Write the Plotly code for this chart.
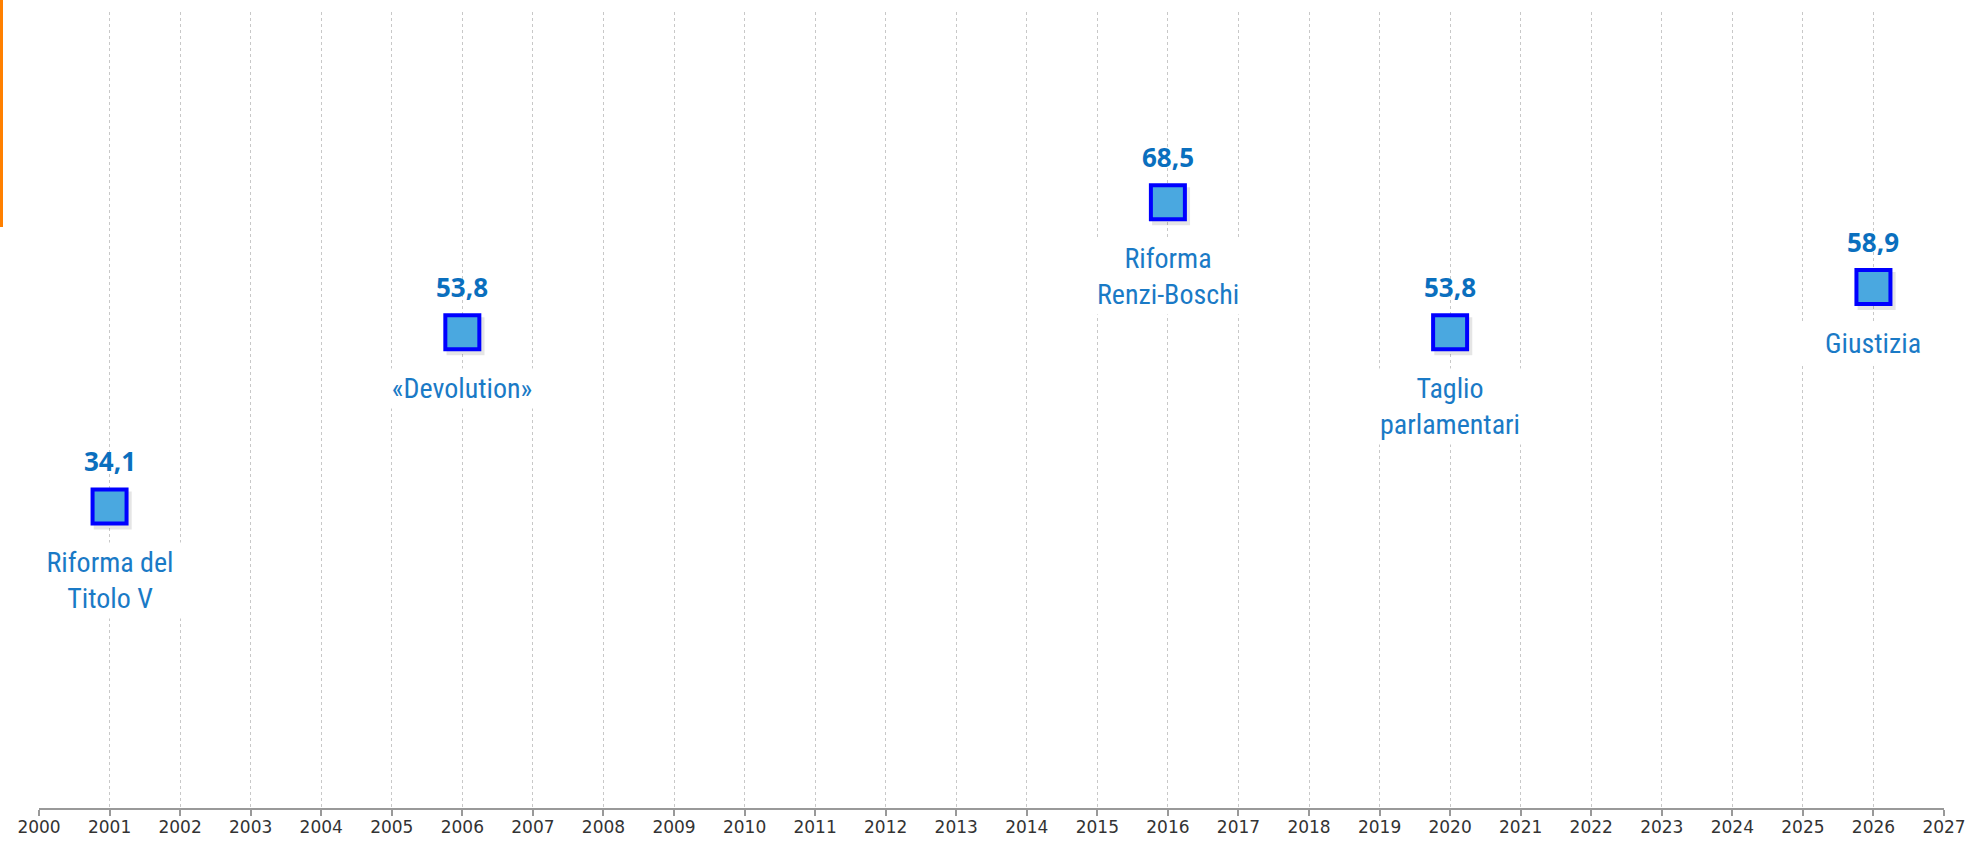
import plotly.graph_objects as go

years = [2001, 2006, 2016, 2020, 2026]
values = [34.1, 53.8, 68.5, 53.8, 58.9]
names = ["Riforma del<br>Titolo V", "\u00abDevolution\u00bb", "Riforma<br>Renzi-Boschi",
         "Taglio<br>parlamentari", "Giustizia"]
tick_years = list(range(2000, 2028))

W, H = 1970, 842
ML, MR, MT, MB = 39, 26, 12, 34

fig = go.Figure()

# soft shadow under markers
fig.add_trace(go.Scatter(
    x=[y + 0.045 for y in years], y=[v - 0.45 for v in values],
    mode="markers",
    marker=dict(symbol="square", size=38, color="rgba(0,0,0,0.10)", line=dict(width=0)),
    hoverinfo="skip", showlegend=False))

fig.add_trace(go.Scatter(
    x=years, y=values, mode="markers",
    marker=dict(symbol="square", size=34, color="#4aa8e0",
                line=dict(color="#0000ff", width=4)),
    showlegend=False))

COND = "Roboto Condensed, Liberation Sans Narrow, DejaVu Sans Condensed, Roboto, sans-serif"

for yr, v, n in zip(years, values, names):
    fig.add_annotation(x=yr, y=v, text=f"{v:.1f}".replace(".", ","),
                       showarrow=False, yshift=45, yanchor="middle",
                       font=dict(family="Open Sans, Lato, sans-serif", size=26,
                                 color="#0a6fbe", weight="bold"))
    lines = n.split("<br>")
    txt = "<br>".join(f'<span style="font-stretch:condensed">{l}</span>' for l in lines)
    fig.add_annotation(x=yr, y=v, text=txt, showarrow=False, yanchor="top",
                       yshift=-36, bgcolor="white", borderpad=3, width=148,
                       font=dict(family=COND, size=28, color="#1a7ac6"))

fig.add_shape(type="rect", xref="paper", yref="paper",
              x0=-ML / (W - ML - MR), x1=-(ML - 3) / (W - ML - MR),
              y0=1 - (227 - MT) / (H - MT - MB), y1=1 + MT / (H - MT - MB),
              fillcolor="#ff8000", line=dict(width=0), layer="above")

fig.update_xaxes(range=[2000, 2027], tickmode="array", tickvals=tick_years,
                 ticktext=[str(t) for t in tick_years], automargin=False,
                 showgrid=True, gridcolor="#c8c8c8", griddash="dot", gridwidth=1,
                 showline=True, linecolor="#999999", linewidth=2,
                 ticks="outside", ticklen=6, tickcolor="#999999", tickwidth=2,
                 ticklabelstandoff=-3, zeroline=False,
                 tickfont=dict(family="DejaVu Sans, Open Sans, sans-serif", size=17, color="#333333"))
fig.update_yaxes(range=[0, 90], showgrid=False, showticklabels=False,
                 zeroline=False, showline=False, automargin=False)

fig.update_layout(width=W, height=H, margin=dict(l=ML, r=MR, t=MT, b=MB, autoexpand=False),
                  plot_bgcolor="white", paper_bgcolor="white")

fig.write_html("out.html", config={"displayModeBar": False},
               post_script="document.body.style.margin='0px';")
